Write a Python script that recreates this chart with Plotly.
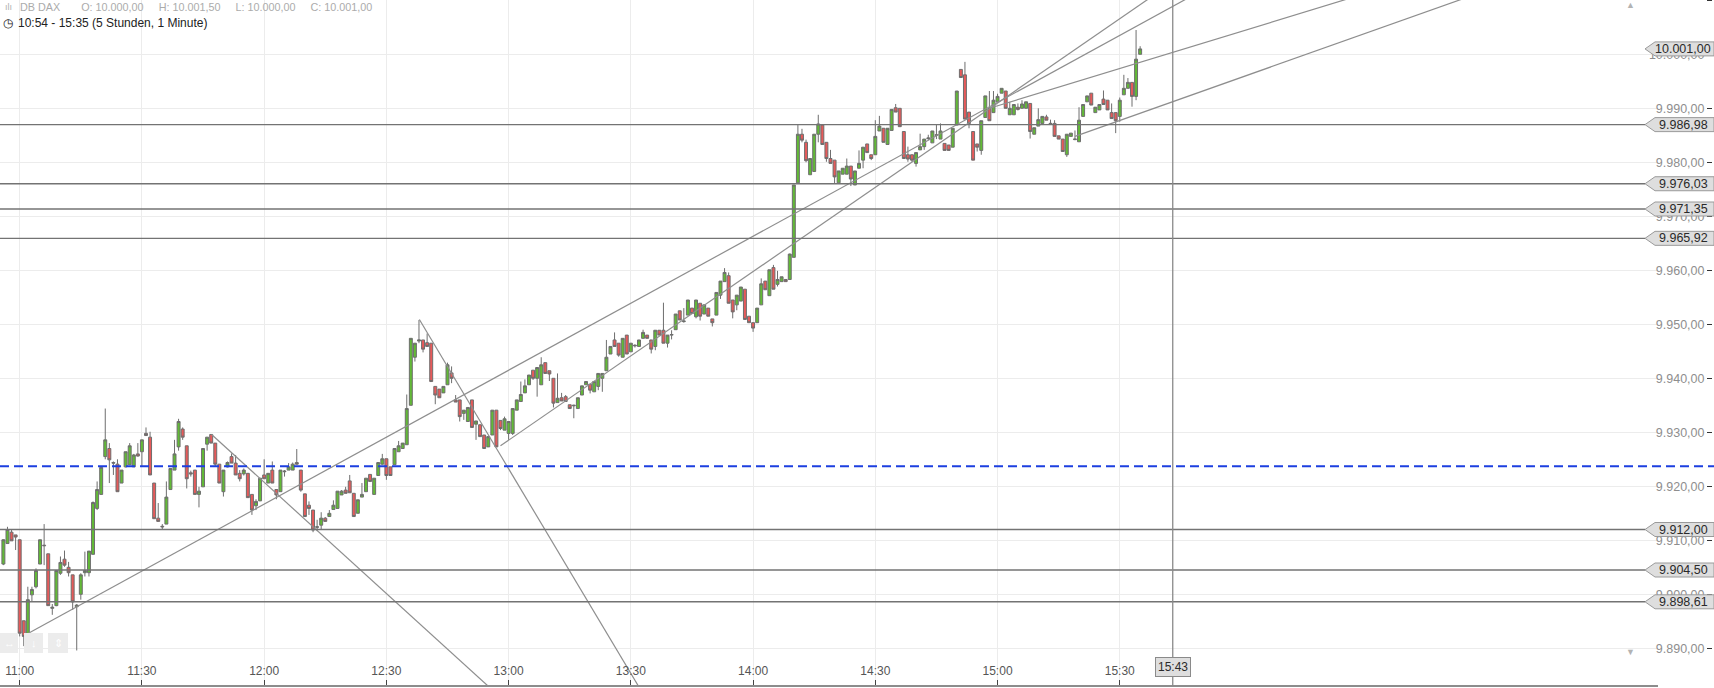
import plotly.graph_objects as go
import pandas as pd

# ---------------- data ----------------
DAY = "2015-01-06"
FIRST_CANDLE = "10:56"

opens = [9905.6, 9909.4, 9911.5, 9911.0, 9910.1, 9895.1, 9892.5, 9899.9, 9901.4, 9905.6,
         9909.1, 9907.5, 9897.4, 9897.9, 9903.9, 9906.5, 9905.0, 9903.6, 9897.7, 9900.0,
         9904.0, 9904.0, 9907.4, 9915.9, 9918.5, 9925.5, 9927.0, 9924.4, 9924.1, 9920.6,
         9923.6, 9924.0, 9923.6, 9926.0, 9926.4, 9929.8, 9929.1, 9920.6, 9914.1, 9912.6,
         9913.0, 9919.4, 9923.0, 9927.3, 9930.6, 9927.5, 9922.5, 9923.0, 9918.5, 9919.9,
         9927.8, 9929.6, 9928.0, 9924.1, 9919.0, 9923.6, 9925.5, 9924.3, 9922.4, 9922.3,
         9922.4, 9918.5, 9916.4, 9917.3, 9922.1, 9920.6, 9923.0, 9919.4, 9919.0, 9922.7,
         9923.0, 9923.0, 9924.4, 9923.0, 9918.6, 9916.5, 9915.6, 9912.4, 9912.8, 9914.1,
         9914.4, 9915.7, 9915.9, 9918.4, 9919.3, 9921.0, 9918.7, 9915.0, 9918.0, 9919.0,
         9922.2, 9918.5, 9922.0, 9924.1, 9925.1, 9923.6, 9924.0, 9926.4, 9927.0, 9927.7,
         9935.0, 9943.9, 9946.9, 9947.1, 9946.6, 9946.5, 9938.5, 9938.0, 9937.3, 9938.8,
         9941.0, 9936.0, 9936.0, 9933.5, 9932.0, 9936.0, 9931.5, 9931.4, 9929.5, 9927.3,
         9929.5, 9934.1, 9932.2, 9930.4, 9929.8, 9929.8, 9934.1, 9935.7, 9937.3, 9938.8,
         9941.5, 9940.0, 9938.8, 9942.9, 9941.4, 9940.0, 9935.5, 9936.4, 9936.6, 9935.1,
         9934.9, 9934.4, 9936.9, 9938.8, 9938.9, 9937.5, 9938.5, 9940.0, 9941.4, 9944.5,
         9947.1, 9946.5, 9943.9, 9948.0, 9944.9, 9946.0, 9945.9, 9947.4, 9948.0, 9947.1,
         9945.9, 9948.9, 9948.9, 9946.5, 9948.0, 9949.0, 9952.5, 9950.5, 9951.7, 9953.0,
         9951.4, 9953.9, 9951.9, 9953.0, 9951.0, 9951.7, 9955.4, 9957.9, 9959.0, 9954.5,
         9953.6, 9954.3, 9956.5, 9951.5, 9950.3, 9950.3, 9953.6, 9958.0, 9955.3, 9960.5,
         9957.4, 9957.9, 9958.3, 9958.3, 9962.4, 9976.2, 9985.2, 9983.7, 9977.7, 9978.3,
         9985.2, 9986.9, 9983.7, 9980.7, 9980.4, 9976.2, 9977.8, 9977.8, 9979.3, 9975.8,
         9978.9, 9980.4, 9983.4, 9981.4, 9981.4, 9985.8, 9986.3, 9983.3, 9985.9, 9990.1,
         9990.0, 9985.7, 9981.4, 9981.4, 9979.8, 9982.3, 9982.9, 9984.4, 9983.6, 9985.1,
         9984.3, 9983.5, 9983.2, 9982.8, 9986.9, 9997.2, 9996.2, 9989.3, 9985.7, 9983.4,
         9982.2, 9988.3, 9990.0, 9989.2, 9991.2, 9992.8, 9993.2, 9988.8, 9988.8, 9990.2,
         9990.0, 9990.0, 9990.9, 9985.2, 9986.7, 9987.2, 9988.4, 9987.1, 9987.2, 9984.9,
         9984.3, 9981.4, 9984.8, 9984.2, 9983.8, 9988.5, 9991.2, 9992.8, 9989.2, 9989.7,
         9991.7, 9991.5, 9989.2, 9989.2, 9988.5, 9992.5, 9993.7, 9994.8, 9992.2, 10000.0]

highs = [9910.2, 9912.5, 9911.9, 9911.0, 9910.1, 9895.1, 9901.4, 9901.4, 9904.8, 9910.1,
         9913.0, 9907.5, 9898.2, 9904.5, 9907.0, 9908.1, 9906.0, 9903.6, 9898.2, 9903.9,
         9907.9, 9908.0, 9917.2, 9920.9, 9923.6, 9934.4, 9928.0, 9924.6, 9925.0, 9923.0,
         9926.4, 9928.0, 9926.0, 9928.0, 9928.6, 9930.9, 9930.1, 9920.6, 9916.9, 9913.0,
         9920.9, 9923.3, 9928.6, 9932.5, 9930.9, 9927.5, 9922.9, 9923.0, 9919.9, 9927.0,
         9929.1, 9929.6, 9928.0, 9924.1, 9923.0, 9924.6, 9926.1, 9925.8, 9923.0, 9923.3,
         9922.4, 9918.5, 9917.6, 9921.5, 9925.0, 9922.4, 9924.6, 9919.4, 9923.0, 9923.0,
         9924.3, 9924.4, 9926.9, 9923.0, 9918.6, 9917.2, 9915.6, 9913.8, 9915.2, 9914.3,
         9915.6, 9917.4, 9919.1, 9919.3, 9919.9, 9922.1, 9918.7, 9917.5, 9920.6, 9921.5,
         9922.2, 9921.5, 9924.4, 9926.0, 9925.1, 9923.6, 9927.0, 9928.4, 9928.0, 9937.0,
         9947.4, 9946.5, 9950.8, 9947.1, 9948.3, 9946.5, 9938.5, 9938.0, 9938.5, 9942.9,
         9942.2, 9936.9, 9936.0, 9934.1, 9934.6, 9936.0, 9932.1, 9931.4, 9929.5, 9929.2,
         9934.1, 9934.1, 9932.2, 9932.9, 9932.0, 9934.4, 9936.0, 9939.4, 9939.8, 9940.6,
         9941.5, 9942.0, 9943.9, 9942.9, 9941.4, 9940.0, 9940.9, 9937.3, 9936.9, 9935.1,
         9935.1, 9936.4, 9938.6, 9939.4, 9938.9, 9939.4, 9940.9, 9940.9, 9947.1, 9945.9,
         9948.5, 9946.5, 9947.4, 9948.0, 9946.5, 9946.3, 9947.1, 9949.0, 9948.0, 9947.1,
         9948.9, 9948.9, 9954.0, 9948.0, 9948.9, 9951.9, 9952.5, 9953.0, 9954.5, 9953.0,
         9954.5, 9953.9, 9953.6, 9953.0, 9951.0, 9955.9, 9958.0, 9960.4, 9959.6, 9954.5,
         9955.4, 9956.9, 9956.5, 9951.5, 9950.3, 9953.0, 9958.5, 9958.0, 9960.1, 9961.0,
         9959.9, 9958.8, 9958.3, 9963.1, 9975.8, 9986.9, 9986.2, 9984.2, 9980.7, 9985.2,
         9988.8, 9986.9, 9983.7, 9982.3, 9980.4, 9978.4, 9978.9, 9980.7, 9979.3, 9978.4,
         9982.2, 9982.8, 9983.4, 9981.4, 9987.8, 9988.6, 9986.3, 9986.3, 9989.8, 9990.8,
         9990.0, 9985.7, 9982.9, 9981.4, 9981.8, 9985.3, 9984.3, 9985.1, 9985.8, 9986.9,
         9987.2, 9983.5, 9983.2, 9986.3, 9993.2, 9997.2, 9998.6, 9989.3, 9985.7, 9983.4,
         9987.7, 9992.3, 9993.2, 9993.2, 9992.7, 9993.7, 9993.2, 9991.2, 9990.7, 9990.9,
         9991.5, 9991.2, 9990.9, 9986.4, 9990.0, 9988.5, 9988.8, 9987.9, 9987.8, 9984.9,
         9984.3, 9985.2, 9985.4, 9985.9, 9990.2, 9990.7, 9992.3, 9992.8, 9990.2, 9990.7,
         9993.3, 9991.5, 9990.9, 9989.2, 9992.0, 9996.2, 9995.6, 9994.8, 10004.5, 10001.5]

lows = [9905.4, 9909.4, 9909.9, 9908.2, 9892.2, 9890.4, 9892.5, 9898.6, 9901.1, 9905.6,
        9905.4, 9897.9, 9896.2, 9897.8, 9903.6, 9905.1, 9903.3, 9897.1, 9889.6, 9899.0,
        9903.3, 9903.3, 9907.4, 9915.6, 9918.4, 9925.0, 9920.6, 9922.1, 9919.0, 9920.6,
        9923.5, 9924.0, 9923.6, 9925.5, 9923.6, 9929.4, 9922.1, 9914.0, 9913.5, 9912.0,
        9913.0, 9919.4, 9923.0, 9926.6, 9928.6, 9919.6, 9921.8, 9918.5, 9916.1, 9919.9,
        9926.6, 9928.0, 9923.6, 9920.6, 9918.1, 9923.5, 9924.3, 9922.1, 9920.9, 9922.0,
        9917.9, 9914.7, 9915.6, 9917.3, 9921.4, 9920.6, 9920.6, 9917.6, 9919.0, 9921.8,
        9923.0, 9923.0, 9924.0, 9919.0, 9914.4, 9914.7, 9911.5, 9911.7, 9911.9, 9913.5,
        9914.4, 9915.7, 9915.9, 9918.4, 9918.7, 9918.8, 9914.4, 9915.0, 9918.0, 9919.0,
        9920.9, 9918.5, 9922.0, 9924.0, 9921.2, 9922.0, 9924.0, 9926.4, 9927.0, 9927.7,
        9935.0, 9943.1, 9946.5, 9944.8, 9945.9, 9939.4, 9935.2, 9936.4, 9937.3, 9938.8,
        9939.1, 9935.6, 9932.0, 9932.3, 9932.0, 9930.9, 9928.6, 9929.2, 9927.0, 9927.3,
        9929.5, 9927.3, 9930.4, 9930.4, 9928.6, 9929.5, 9934.1, 9935.7, 9937.3, 9938.8,
        9939.7, 9936.6, 9938.8, 9940.9, 9939.5, 9934.6, 9935.5, 9935.8, 9935.7, 9934.4,
        9932.6, 9934.4, 9936.9, 9938.8, 9937.2, 9937.5, 9937.8, 9937.5, 9941.4, 9944.5,
        9945.9, 9944.0, 9943.9, 9944.5, 9944.9, 9945.7, 9945.9, 9947.4, 9947.4, 9944.6,
        9945.2, 9948.0, 9946.5, 9945.7, 9947.2, 9949.0, 9950.8, 9950.3, 9951.7, 9952.0,
        9951.1, 9950.7, 9951.9, 9951.5, 9949.6, 9951.7, 9954.7, 9957.9, 9953.9, 9951.1,
        9952.6, 9954.3, 9950.9, 9950.3, 9948.6, 9950.3, 9953.6, 9956.4, 9955.3, 9956.5,
        9957.0, 9957.9, 9957.9, 9958.3, 9962.4, 9976.2, 9983.7, 9980.0, 9977.7, 9978.3,
        9983.7, 9983.3, 9980.1, 9979.8, 9976.1, 9976.2, 9977.8, 9977.8, 9975.6, 9975.8,
        9978.9, 9978.9, 9981.8, 9980.4, 9981.4, 9985.8, 9983.7, 9983.3, 9985.9, 9989.3,
        9986.6, 9980.7, 9980.1, 9980.1, 9979.2, 9982.3, 9982.3, 9984.1, 9983.6, 9984.3,
        9984.3, 9982.2, 9982.2, 9982.8, 9986.9, 9995.7, 9988.0, 9986.3, 9980.4, 9982.0,
        9981.4, 9988.3, 9987.7, 9989.2, 9991.2, 9992.8, 9990.0, 9988.8, 9988.8, 9989.6,
        9990.0, 9990.0, 9984.4, 9985.2, 9986.7, 9987.2, 9987.8, 9987.0, 9984.8, 9984.3,
        9982.0, 9981.0, 9984.8, 9984.1, 9983.8, 9988.5, 9991.2, 9990.6, 9989.2, 9989.7,
        9990.7, 9989.7, 9988.1, 9985.4, 9987.5, 9992.5, 9993.7, 9990.3, 9991.5, 10000.0]

closes = [9910.1, 9912.0, 9909.9, 9910.6, 9892.8, 9892.2, 9899.0, 9900.9, 9904.4, 9910.1,
          9909.0, 9897.9, 9897.6, 9904.4, 9905.9, 9905.4, 9904.0, 9898.6, 9898.0, 9903.6,
          9904.4, 9908.0, 9917.0, 9919.4, 9923.5, 9928.6, 9924.9, 9924.3, 9919.0, 9923.0,
          9926.4, 9927.5, 9925.8, 9925.6, 9928.6, 9929.4, 9922.1, 9914.0, 9913.5, 9912.5,
          9918.0, 9923.3, 9926.0, 9932.0, 9929.1, 9921.4, 9922.3, 9918.5, 9919.1, 9927.0,
          9929.1, 9928.0, 9924.1, 9920.6, 9923.0, 9924.4, 9924.3, 9922.1, 9921.4, 9923.0,
          9917.9, 9915.6, 9917.2, 9921.5, 9921.4, 9922.4, 9920.6, 9918.4, 9923.0, 9922.8,
          9923.6, 9924.1, 9924.1, 9919.3, 9914.4, 9915.9, 9911.9, 9912.5, 9914.1, 9913.5,
          9915.0, 9916.5, 9919.1, 9919.1, 9918.7, 9918.8, 9914.4, 9917.5, 9918.5, 9921.5,
          9920.9, 9921.5, 9924.4, 9925.1, 9922.0, 9922.0, 9927.0, 9927.5, 9928.0, 9934.4,
          9947.4, 9946.5, 9947.1, 9945.4, 9945.9, 9939.4, 9936.9, 9936.4, 9938.5, 9942.5,
          9940.0, 9935.6, 9932.9, 9934.1, 9934.6, 9930.9, 9932.1, 9929.2, 9927.0, 9929.2,
          9934.1, 9927.3, 9930.7, 9932.5, 9932.0, 9934.4, 9936.0, 9937.0, 9938.6, 9940.6,
          9940.0, 9942.0, 9942.5, 9940.9, 9940.8, 9935.4, 9936.3, 9935.8, 9935.7, 9934.4,
          9935.0, 9936.4, 9938.6, 9939.4, 9937.8, 9939.4, 9940.9, 9940.9, 9943.9, 9945.9,
          9945.9, 9944.3, 9947.4, 9944.5, 9946.5, 9946.1, 9947.1, 9948.5, 9947.4, 9945.4,
          9948.9, 9948.0, 9946.5, 9948.0, 9948.1, 9951.9, 9950.8, 9950.6, 9954.5, 9952.0,
          9954.5, 9951.5, 9953.6, 9951.5, 9950.3, 9955.9, 9958.0, 9959.6, 9953.9, 9952.3,
          9955.4, 9956.9, 9950.9, 9950.3, 9949.3, 9953.0, 9957.5, 9956.4, 9960.1, 9956.5,
          9958.3, 9958.8, 9957.9, 9963.0, 9975.8, 9985.2, 9984.1, 9980.3, 9980.7, 9985.2,
          9987.1, 9983.3, 9980.7, 9979.8, 9977.3, 9978.4, 9978.9, 9979.3, 9976.9, 9978.4,
          9979.8, 9982.8, 9981.8, 9980.7, 9984.8, 9986.7, 9983.7, 9986.3, 9989.8, 9989.3,
          9986.6, 9980.7, 9980.6, 9980.4, 9981.8, 9982.9, 9984.3, 9984.5, 9985.8, 9985.0,
          9985.8, 9982.2, 9982.2, 9986.3, 9993.2, 9995.7, 9988.0, 9987.2, 9980.4, 9982.8,
          9987.7, 9992.3, 9987.7, 9991.5, 9992.2, 9993.7, 9990.0, 9990.0, 9990.7, 9989.8,
          9990.8, 9991.2, 9985.7, 9986.4, 9987.9, 9988.5, 9987.8, 9987.2, 9984.8, 9984.3,
          9982.0, 9985.2, 9985.4, 9984.3, 9987.8, 9990.7, 9992.3, 9990.6, 9990.2, 9990.7,
          9990.7, 9989.7, 9988.1, 9987.7, 9991.5, 9993.7, 9994.8, 9992.2, 9999.1, 10001.0]

support_levels = [9986.98, 9976.03, 9971.35, 9965.92, 9912.00, 9904.50, 9898.61]
blue_level = 9923.7
cursor_time = "15:43"

# drawn trend lines: start / end (time, price)
trend_t0 = ["11:01:42", "12:58:00", "14:58:00", "15:19:00", "12:38:06", "11:47:06"]
trend_p0 = [9892.6, 9927.5, 9990.0, 9984.8, 9950.9, 9929.6]
trend_t1 = ["16:00:00", "16:00:00", "16:40:00", "17:10:00", "13:41:12", "13:12:18"]
trend_p1 = [10015.9, 10022.2, 10013.5, 10014.5, 9871.2, 9871.1]

x_tick_labels = ["11:00", "11:30", "12:00", "12:30", "13:00", "13:30",
                 "14:00", "14:30", "15:00", "15:30"]
y_tick_values = [9890, 9900, 9910, 9920, 9930, 9940, 9950, 9960, 9970, 9980,
                 9990, 10000, 10010]

header_name = "DB DAX"
header_period = "10:54 - 15:35 (5 Stunden, 1 Minute)"

# ---------------- helpers ----------------
W, H = 1714, 688


def de(v):
    s = f"{v:,.2f}"
    return s.replace(",", "X").replace(".", ",").replace("X", ".")


def ts(hhmm):
    return f"{DAY} {hhmm}"


def px_x(p):
    return p / W


def px_y(p):
    return 1 - p / H


times = pd.date_range(ts(FIRST_CANDLE), periods=len(opens), freq="1min")

GREEN = "#62ba36"
RED = "#e65a5a"
EDGE = "#6e6e6e"

fig = go.Figure()

fig.add_trace(go.Candlestick(
    x=times, open=opens, high=highs, low=lows, close=closes,
    increasing=dict(line=dict(color=EDGE, width=1), fillcolor=GREEN),
    decreasing=dict(line=dict(color=EDGE, width=1), fillcolor=RED),
    whiskerwidth=0, showlegend=False, hoverinfo="skip",
))

for t0, p0, t1, p1 in zip(trend_t0, trend_p0, trend_t1, trend_p1):
    fig.add_trace(go.Scatter(
        x=[ts(t0), ts(t1)], y=[p0, p1], mode="lines",
        line=dict(color="#8e8e8e", width=1.2),
        showlegend=False, hoverinfo="skip",
    ))

shapes = []
annotations = []

# white band hiding vertical grid in the time-label strip
shapes.append(dict(type="rect", xref="paper", yref="paper",
                   x0=0, x1=px_x(1658), y0=px_y(686), y1=px_y(662),
                   fillcolor="white", line=dict(width=0), layer="between"))

# horizontal support lines
TAG_TIP, TAG_SHOULDER, TAG_END = px_x(1645), px_x(1655), 1.0
HALF = 7.0 / 5.4  # half tag height in price units
for lv in support_levels:
    shapes.append(dict(type="line", xref="paper", yref="y",
                       x0=0, x1=TAG_TIP, y0=lv, y1=lv,
                       line=dict(color="#737373", width=1.4)))

# blue dashed line
shapes.append(dict(type="line", xref="paper", yref="y",
                   x0=0, x1=1, y0=blue_level, y1=blue_level,
                   line=dict(color="#1c3fe0", width=2, dash="9px,5px")))

# vertical cursor
shapes.append(dict(type="line", xref="x", yref="paper",
                   x0=ts(cursor_time), x1=ts(cursor_time), y0=px_y(686), y1=1,
                   line=dict(color="#8a8a8a", width=1.3)))

# price tags
tag_levels = support_levels + [closes[-1]]
for lv in tag_levels:
    path = (f"M {TAG_TIP},{lv} L {TAG_SHOULDER},{lv + HALF} L {TAG_END},{lv + HALF} "
            f"L {TAG_END},{lv - HALF} L {TAG_SHOULDER},{lv - HALF} Z")
    shapes.append(dict(type="path", xref="paper", yref="y", path=path,
                       fillcolor="#dedede", line=dict(color="#9a9a9a", width=1)))
    annotations.append(dict(xref="paper", yref="y", x=px_x(1683), y=lv,
                            text=de(lv), showarrow=False, xanchor="center",
                            yanchor="middle",
                            font=dict(size=12.5, color="#2a2a2a")))

# cursor time tag
annotations.append(dict(xref="x", yref="paper", x=ts(cursor_time), y=px_y(667),
                        text=cursor_time, showarrow=False, xanchor="center",
                        yanchor="middle", bgcolor="#dedede",
                        bordercolor="#8a8a8a", borderwidth=1, borderpad=2,
                        font=dict(size=12, color="#2a2a2a")))

# header
gap = "\u00a0" * 5
hdr1 = (f"{header_name}{gap}\u00a0\u00a0O: {de(opens[-1])}{gap}H: {de(highs[-1])}{gap}"
        f"L: {de(lows[-1])}{gap}C: {de(closes[-1])}")
annotations.append(dict(xref="paper", yref="paper", x=px_x(3), y=px_y(7),
                        text="ılı", showarrow=False, xanchor="left",
                        yanchor="middle", font=dict(size=9, color="#b0b0b0")))
annotations.append(dict(xref="paper", yref="paper", x=px_x(18), y=px_y(7),
                        text=hdr1, showarrow=False, xanchor="left",
                        yanchor="middle", font=dict(size=10.8, color="#ababab")))
annotations.append(dict(xref="paper", yref="paper", x=px_x(1), y=px_y(23),
                        text="◷", showarrow=False, xanchor="left",
                        yanchor="middle", font=dict(size=12, color="#222222")))
annotations.append(dict(xref="paper", yref="paper", x=px_x(16), y=px_y(23),
                        text=header_period, showarrow=False, xanchor="left",
                        yanchor="middle", font=dict(size=12, color="#222222")))

# scroll arrows on the price scale
annotations.append(dict(xref="paper", yref="paper", x=px_x(1630), y=px_y(5),
                        text="▲", showarrow=False, xanchor="center",
                        yanchor="middle", font=dict(size=9, color="#b3b3b3")))
annotations.append(dict(xref="paper", yref="paper", x=px_x(1630), y=px_y(652),
                        text="▼", showarrow=False, xanchor="center",
                        yanchor="middle", font=dict(size=9, color="#b3b3b3")))

# navigation buttons bottom-left
for (bx0, bx1), sym in zip([(0, 18), (24, 43), (48, 68)], ["↔", "↓", "⇕"]):
    shapes.append(dict(type="rect", xref="paper", yref="paper",
                       x0=px_x(bx0), x1=px_x(bx1), y0=px_y(653), y1=px_y(633),
                       fillcolor="#ececec", line=dict(width=0)))
    annotations.append(dict(xref="paper", yref="paper", x=px_x((bx0 + bx1) / 2),
                            y=px_y(643), text=sym, showarrow=False,
                            xanchor="center", yanchor="middle",
                            font=dict(size=11, color="#ffffff")))

y_top = 9890 + 648.3 / 5.4
y_bot = 9890 - (686 - 648.3) / 5.4

fig.update_layout(
    width=W, height=H,
    margin=dict(l=0, r=0, t=0, b=0),
    paper_bgcolor="white", plot_bgcolor="white",
    separators=",.",
    font=dict(family="Liberation Sans, Arial, sans-serif"),
    showlegend=False,
    boxgap=0.15, boxgroupgap=0.15,
    shapes=shapes, annotations=annotations,
    xaxis=dict(
        domain=[0, px_x(1658)],
        range=[ts("10:55:10"), ts("17:42:06")],
        anchor="free", position=2 / H,
        side="top",
        tickmode="array",
        tickvals=[ts(t) for t in x_tick_labels],
        ticktext=x_tick_labels,
        ticks="outside", ticklen=5, tickcolor="#444", tickwidth=1,
        tickfont=dict(size=12, color="#555555"),
        showgrid=True, gridcolor="#ececec", gridwidth=1,
        showline=True, linecolor="#8c8c8c", linewidth=2,
        rangeslider=dict(visible=False),
        zeroline=False, fixedrange=True,
    ),
    yaxis=dict(
        domain=[2 / H, 1],
        range=[y_bot, y_top],
        anchor="free", position=px_x(1712), side="left",
        tickmode="array", tickvals=y_tick_values, tickformat=",.2f",
        ticks="outside", ticklen=5, tickcolor="#333", tickwidth=1,
        tickfont=dict(size=12.5, color="#8e8e8e"),
        showgrid=True, gridcolor="#ececec", gridwidth=1,
        showline=False, zeroline=False, fixedrange=True,
    ),
)

fig.write_html(
    "out.html",
    config={"displayModeBar": False, "staticPlot": True},
    post_script="document.body.style.margin='0px';document.body.style.overflow='hidden';",
)
